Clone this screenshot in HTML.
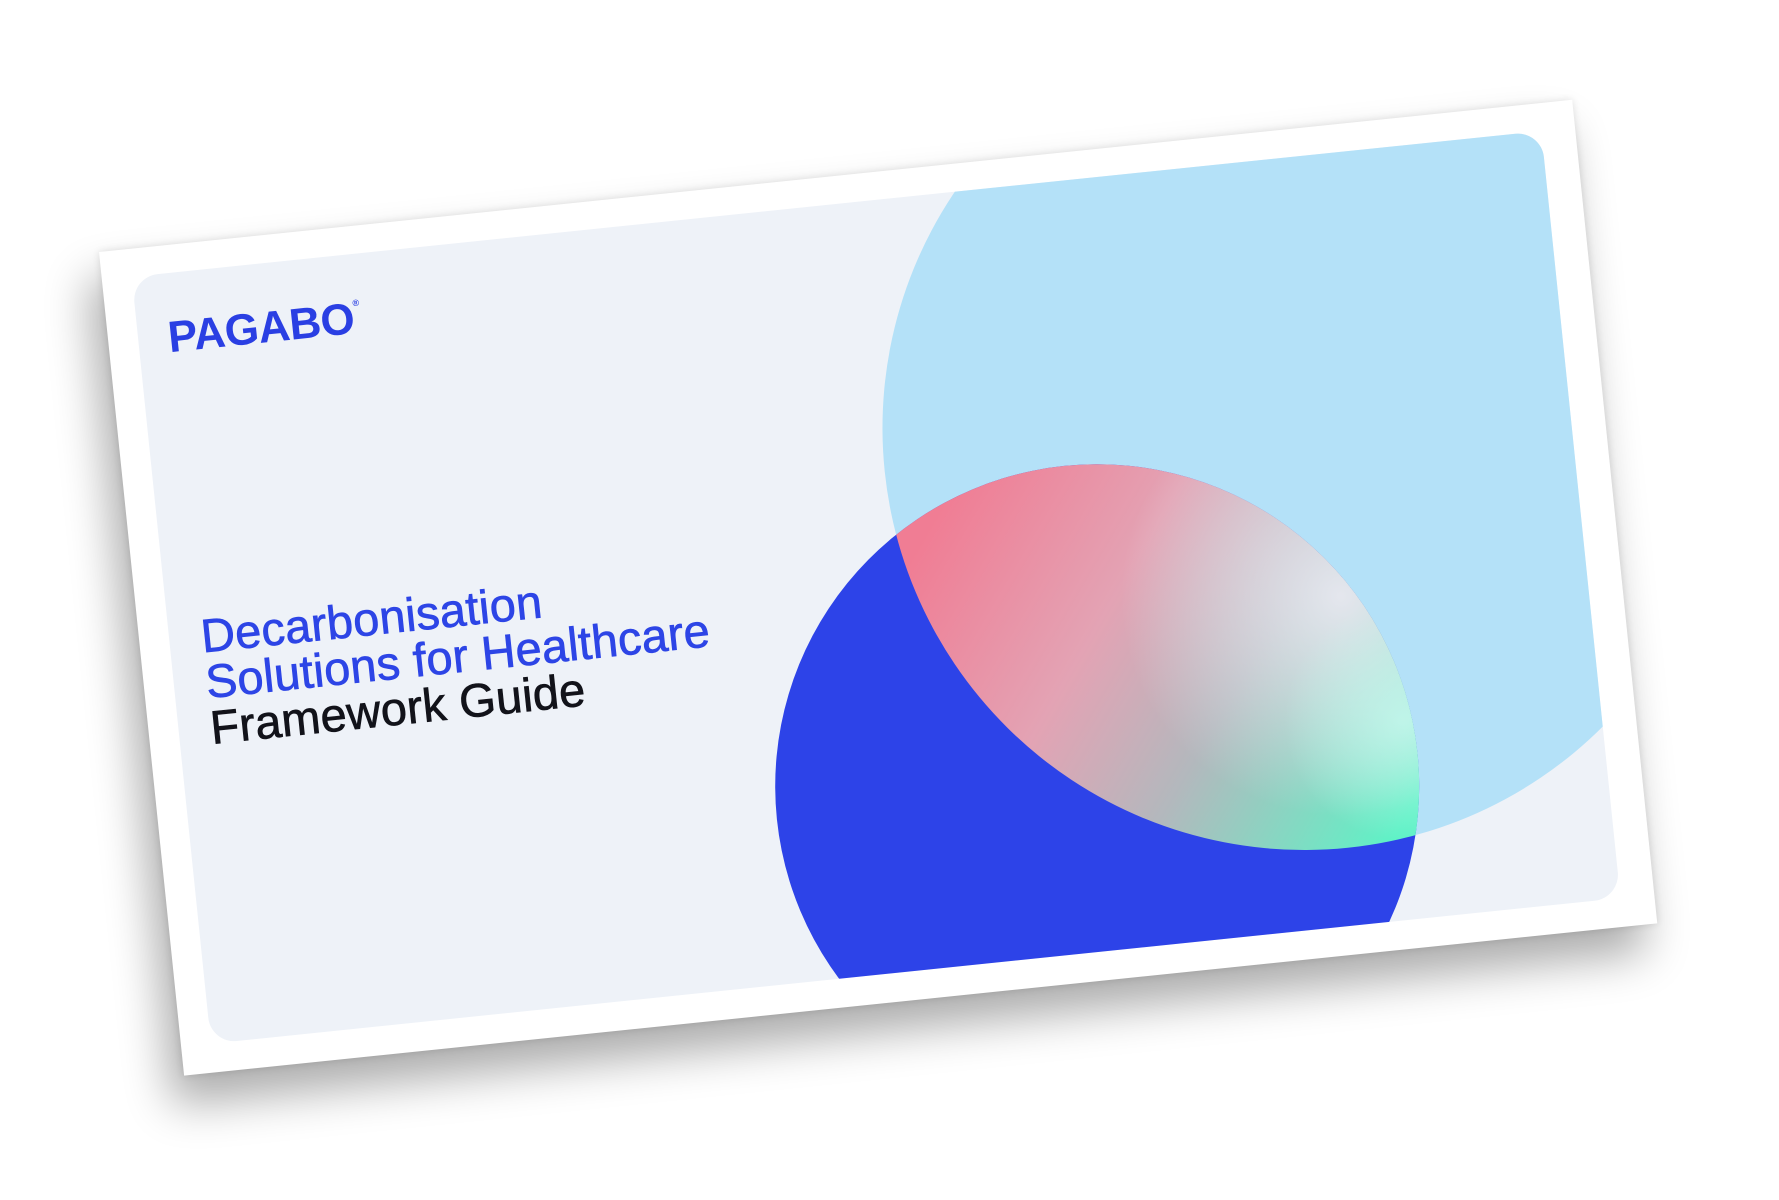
<!DOCTYPE html>
<html>
<head>
<meta charset="utf-8">
<style>
html,body{margin:0;padding:0;background:#fff;width:1779px;height:1200px;overflow:hidden;}
#card{position:absolute;left:99px;top:252px;width:1481px;height:828px;background:#fff;
transform-origin:0 0;transform:rotate(-5.9deg);
box-shadow:-14px 28px 45px rgba(0,0,0,0.33), 0 0 8px rgba(0,0,0,0.12);}
#card svg{position:absolute;left:0;top:0;}
.logo{position:absolute;left:60px;top:68px;font-family:"Liberation Sans",sans-serif;font-weight:bold;font-size:44px;color:#2a3fe3;letter-spacing:-0.5px;}
.logo sup{font-size:9px;vertical-align:top;position:relative;top:4px;}
.title{position:absolute;left:62px;top:370px;font-family:"Liberation Sans",sans-serif;font-size:47px;line-height:46px;color:#2d45e6;letter-spacing:0.2px;-webkit-text-stroke:0.7px #2d45e6;}
.title .k{color:#12131a;-webkit-text-stroke:0.7px #12131a;}
</style>
</head>
<body>
<div id="card">
<svg width="1481" height="828" viewBox="0 0 1481 828">
<defs>
<clipPath id="pc"><rect x="30" y="28" width="1417" height="771" rx="26"/></clipPath>
<clipPath id="lb"><circle cx="1181" cy="299" r="422"/></clipPath>
<linearGradient id="g1" gradientUnits="userSpaceOnUse" x1="790" y1="370" x2="1240" y2="700">
<stop offset="0" stop-color="#f07d94"/>
<stop offset="0.35" stop-color="#e3a3b4"/>
<stop offset="0.62" stop-color="#b3b8bd"/>
<stop offset="1" stop-color="#5ff2c6"/>
</linearGradient>
<radialGradient id="g2" gradientUnits="userSpaceOnUse" cx="1200" cy="470" r="220">
<stop offset="0" stop-color="#e8e8f0" stop-opacity="0.95"/>
<stop offset="1" stop-color="#e8e8f0" stop-opacity="0"/>
</radialGradient>
<radialGradient id="g3" gradientUnits="userSpaceOnUse" cx="1250" cy="600" r="120">
<stop offset="0" stop-color="#c8f8ee" stop-opacity="0.8"/>
<stop offset="1" stop-color="#c8f8ee" stop-opacity="0"/>
</radialGradient>
</defs>
<rect x="30" y="28" width="1417" height="771" rx="26" fill="#eef2f8"/>
<g clip-path="url(#pc)">
<circle cx="1181" cy="299" r="422" fill="#b4e1f8"/>
<circle cx="938" cy="634" r="322" fill="#2d43e8"/>
<g clip-path="url(#lb)">
<circle cx="938" cy="634" r="322" fill="url(#g1)"/>
<circle cx="938" cy="634" r="322" fill="url(#g2)"/>
<circle cx="938" cy="634" r="322" fill="url(#g3)"/>
</g>
</g>
</svg>
<div class="logo">PAGABO<sup>®</sup></div>
<div class="title">Decarbonisation<br>Solutions for Healthcare<br><span class="k">Framework Guide</span></div>
</div>
</body>
</html>
